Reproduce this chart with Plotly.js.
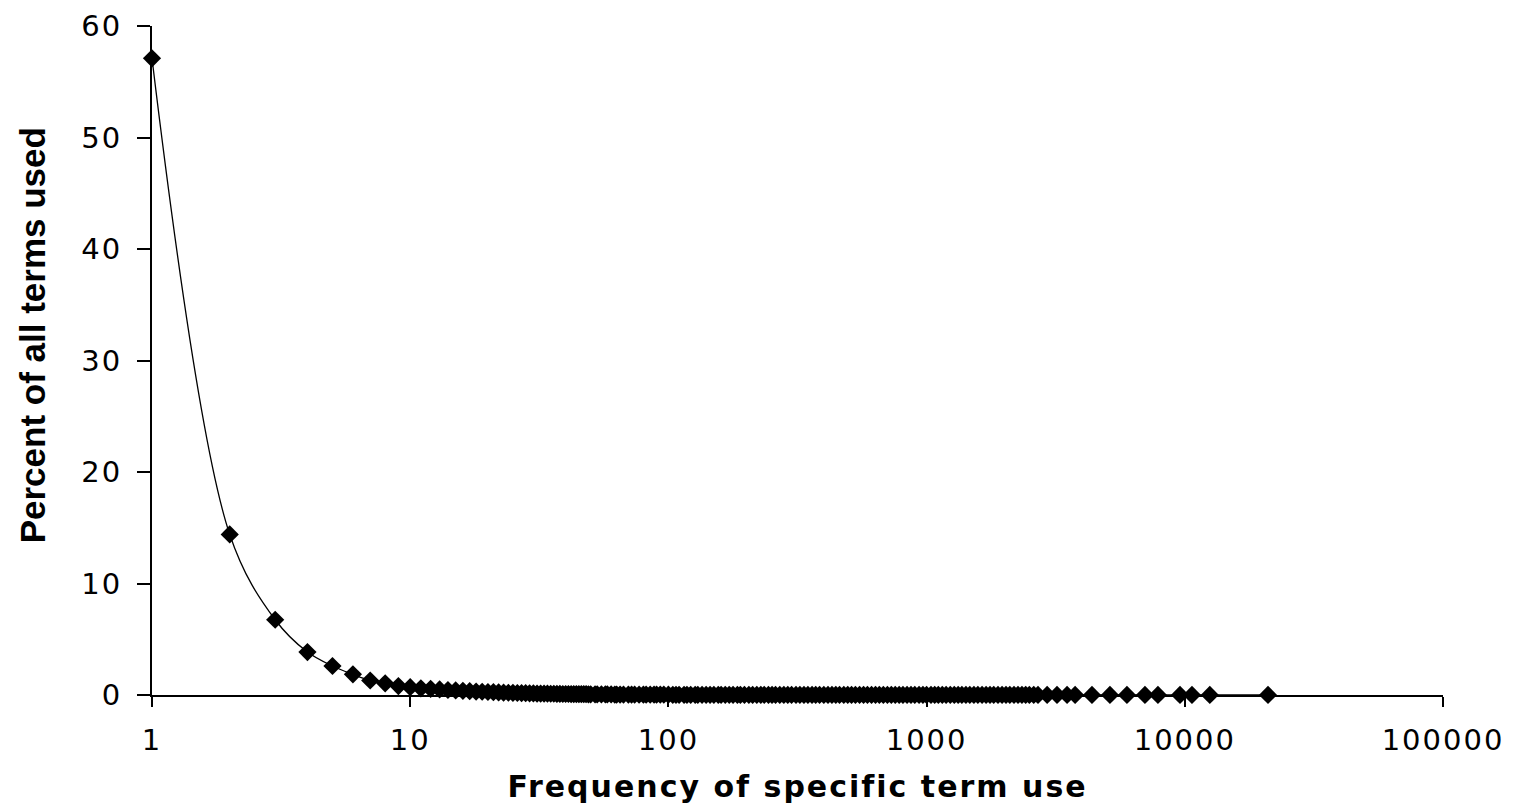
<!DOCTYPE html>
<html>
<head>
<meta charset="utf-8">
<script src="https://cdn.plot.ly/plotly-3.0.1.min.js"></script>
<style>
html,body{margin:0;padding:0;background:#fff;}
#chart{width:1520px;height:808px;}
#chart .xtick text, #chart .ytick text {letter-spacing: 2px;}
#chart .g-xtitle text {letter-spacing: 2px;}
</style>
</head>
<body>
<div id="chart"></div>
<script>
// Frequency of use (x) and percent of all terms (y)
const headFreq = [1, 2, 3, 4, 5, 6, 7, 8, 9, 10];
const headPct  = [57.1, 14.4, 6.75, 3.85, 2.6, 1.85, 1.3, 1.05, 0.8, 0.7];

const bandFreq = [11,12,13,14,15,16,17,18,19,20,
                  21,22,23,24,25,26,27,28,29,30,
                  31,32,33,34,35,36,37,38,39,40,
                  41,42,43,44,45,46,47,48,49,50];
const bandPct  = [0.6,0.55,0.5,0.45,0.41,0.37,0.34,0.31,0.29,0.27,
                  0.25,0.23,0.21,0.2,0.19,0.18,0.17,0.16,0.15,0.14,
                  0.13,0.13,0.12,0.12,0.11,0.11,0.1,0.1,0.09,0.09,
                  0.09,0.08,0.08,0.08,0.07,0.07,0.07,0.07,0.06,0.06];

const midFreq = [52,53,55,57,58,60,62,63,65,67,
                 70,72,74,77,80,82,85,88,90,93,
                 96,100,104,107,110,115,118,122,127,130,
                 135,140,145,150,156,160,166,172,178,185,
                 190,197,205,212,220,228,235,244,252,260,
                 270,280,290,300,312,323,335,347,360,372,
                 385,400,415,430,445,460,478,495,512,530,
                 550,570,590,612,634,656,680,705,730,756,
                 783,810,840,870,900,935,968,1000,1040,1075,
                 1110,1150,1190,1235,1280,1325,1370,1420,1470,1525,
                 1580,1640,1700,1760,1820,1890,1960,2030,2100,2180,
                 2260,2340,2420,2500,2600];
const midPct  = [0.06,0.05,0.05,0.05,0.05,0.05,0.04,0.04,0.04,0.04,
                 0.04,0.04,0.04,0.03,0.03,0.03,0.03,0.03,0.03,0.03,
                 0.03,0.03,0.02,0.02,0.02,0.02,0.02,0.02,0.02,0.02,
                 0.02,0.02,0.02,0.02,0.02,0.02,0.02,0.02,0.02,0.02,
                 0.01,0.01,0.01,0.01,0.01,0.01,0.01,0.01,0.01,0.01,
                 0.01,0.01,0.01,0.01,0.01,0.01,0.01,0.01,0.01,0.01,
                 0.01,0.01,0.01,0.01,0.01,0.01,0.01,0.01,0.01,0.01,
                 0.01,0.01,0.01,0.01,0.01,0.01,0.01,0.01,0.01,0.01,
                 0.01,0.01,0.01,0.01,0.01,0.01,0.01,0.01,0.01,0.01,
                 0.01,0.01,0.01,0.01,0.01,0.01,0.01,0.01,0.01,0.01,
                 0.01,0.01,0.01,0.01,0.01,0.01,0.01,0.01,0.01,0.01,
                 0.01,0.01,0.01,0.01,0.01];

const tailFreq = [2700,2930,3200,3500,3760,4370,5130,5970,7010,7870,9580,10660,12500,21000];
const tailPct  = [0.01,0.01,0.01,0.01,0.01,0.01,0.01,0.01,0.01,0.01,0.01,0.01,0.01,0.01];

const xTickVals = [1, 10, 100, 1000, 10000, 100000];
const xTickText = ["1", "10", "100", "1000", "10000", "100000"];
const yTickVals = [0, 10, 20, 30, 40, 50, 60];

const xTitle = "Frequency of specific term use";
const yTitle = "Percent of all terms used";

const xs = headFreq.concat(bandFreq, midFreq, tailFreq);
const ys = headPct.concat(bandPct, midPct, tailPct);

const trace = {
  x: xs, y: ys,
  type: "scatter",
  mode: "lines+markers",
  line: {color: "#000", width: 1.3, shape: "spline", smoothing: 1},
  marker: {symbol: "diamond", size: 14, color: "#000"},
  cliponaxis: false,
  hoverinfo: "x+y"
};

const tickFont = {family: "DejaVu Sans", size: 29, color: "#000"};

const layout = {
  width: 1520, height: 808,
  paper_bgcolor: "#fff", plot_bgcolor: "#fff",
  margin: {l: 152, r: 77, t: 26, b: 113},
  showlegend: false,
  xaxis: {
    type: "log", range: [0, 5],
    tickvals: xTickVals, ticktext: xTickText,
    showgrid: false, zeroline: false,
    showline: true, linecolor: "#000", linewidth: 2,
    ticks: "outside", ticklen: 10, tickwidth: 2, tickcolor: "#000",
    tickfont: tickFont, ticklabelstandoff: 8,
    title: {text: xTitle, font: {family: "DejaVu Sans", size: 30, weight: "bold", color: "#000"}, standoff: 20}
  },
  yaxis: {
    range: [0, 60], tickvals: yTickVals,
    showgrid: false, zeroline: false,
    showline: true, linecolor: "#000", linewidth: 2,
    ticks: "outside", ticklen: 13, tickwidth: 2, tickcolor: "#000",
    tickfont: tickFont, ticklabelstandoff: 9
  },
  annotations: [{
    text: yTitle, xref: "paper", yref: "paper",
    x: -0.0925, y: 0.537, xanchor: "center", yanchor: "middle",
    textangle: -90, showarrow: false,
    font: {family: "Liberation Sans", size: 35, weight: "bold", color: "#000"}
  }]
};

Plotly.newPlot("chart", [trace], layout, {displayModeBar: false, staticPlot: true});
</script>
</body>
</html>
